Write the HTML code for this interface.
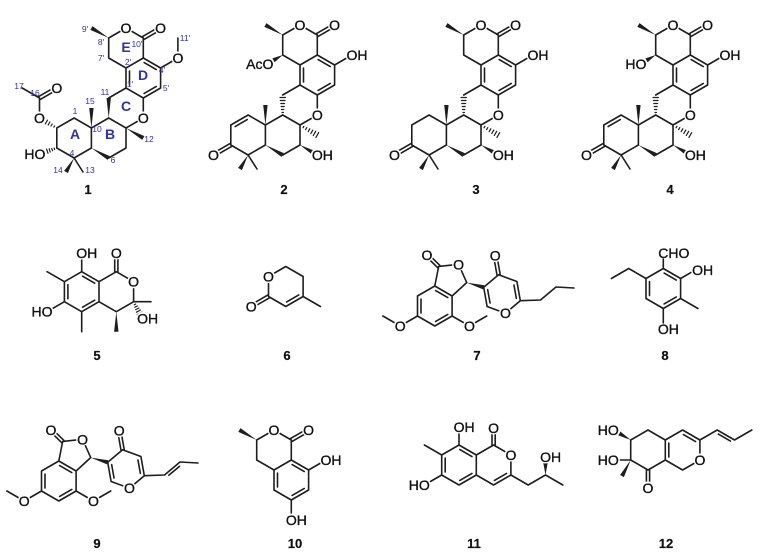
<!DOCTYPE html>
<html><head><meta charset="utf-8">
<style>
html,body{margin:0;padding:0;background:#fff;}
svg{display:block;}
text{font-family:"Liberation Sans",Arial,sans-serif;}
.a{font-size:14px;fill:#111;stroke:#111;stroke-width:0.35px;}
.m{text-anchor:middle;}
.e{text-anchor:end;}
.n{font-size:13px;font-weight:bold;fill:#111;text-anchor:middle;stroke:#111;stroke-width:0.2px;}
.b{font-size:8.5px;fill:#3030b0;text-anchor:middle;}
.r{font-size:14px;font-weight:bold;fill:#3030b0;text-anchor:middle;}
</style></head><body>
<svg xmlns="http://www.w3.org/2000/svg" width="768" height="558" viewBox="0 0 768 558">
<rect width="768" height="558" fill="#fff"/>
<defs>
<g id="core">
<path d="M300,65 L282.7,55 L282.7,35 L300,25 L317.3,35 L317.3,55 M300,85 L300,65 L317.3,55 L334.6,65 L334.6,85 L317.3,95 Z M303.5,68 L303.5,82 M318.15,59.53 L330.25,66.53 M330.25,83.47 L318.15,90.47 M318.1,36.4 L335.4,26.4 M316.5,33.6 L333.8,23.6 M334.6,65 L351.9,55 M300,85 L282.7,95 M282.7,115 L300,125 L317.3,115 L317.3,95 M282.7,115 L265.4,125 L265.4,145 M282.7,155 L300,145 L300,125 M265.4,125 L248.1,115 L230.8,125 L230.8,145 L248.1,155 L265.4,145 M248.1,155 L257,169"/>
<path fill="#1e1e1e" stroke="none" d="M282.7,35 L266.5,23.1 L264.3,26.9 Z M265.4,125 L263.2,105 L267.6,105 Z M265.4,145 L281.6,156.9 L283.8,153.1 Z M248.1,155 L238.1,167.9 L241.9,170.1 Z"/>
</g>
<g id="x234">
<path stroke-width="1.2" d="M282,112.5 H283.4 M281.6,109.5 H283.8 M281.2,106.5 H284.2 M280.8,103.5 H284.6 M280.4,100.5 H285 M280,97.5 H285.4 M303.1,127.7 L303.9,126.3 M305.6,129.6 L306.8,127.6 M308.2,131.6 L309.8,128.8 M310.8,133.5 L312.8,130.1 M313.3,135.5 L315.7,131.3 M315.9,137.4 L318.7,132.6"/>
<path d="M231.6,146.4 L214.3,156.4 M230,143.6 L212.7,153.6"/>
<path fill="#1e1e1e" stroke="none" d="M300,145 L311.9,154.4 L314.1,150.6 Z"/>
</g>
<g id="x24">
<path d="M247.25,119.53 L235.15,126.53"/>
<path fill="#1e1e1e" stroke="none" d="M282.7,55 L272.4,58.4 L274.6,62.2 Z"/>
</g>
<g id="c_core" fill="#fff" stroke="none">
<circle cx="300" cy="25" r="6.5"/><circle cx="334.6" cy="25" r="6.5"/><circle cx="317.3" cy="115" r="6.5"/><circle cx="351.9" cy="55" r="6.5"/>
</g>
<g id="c234" fill="#fff" stroke="none">
<circle cx="213.5" cy="155" r="6.5"/><circle cx="317.3" cy="155" r="6.5"/>
</g>
<g id="c24" fill="#fff" stroke="none"><circle cx="268" cy="64" r="6.5"/></g>
<g id="s9">
<path d="M41.5,471 L58.8,461 L76.1,471 L76.1,491 L58.8,501 L41.5,491 Z M45,474 L45,488 M59.65,465.53 L71.75,472.53 M59.65,496.47 L71.75,489.47 M58.8,461 L62.7,441.4 L82.6,439.3 L90.7,457.6 L76.1,471 M63.8,440.3 L52.1,428.9 M61.6,442.6 L49.9,431.2 M41.5,491 L24.2,501 L6.9,491 M76.1,491 L93.4,501 L110.7,491 M107.7,462.3 L122.6,449.8 L140.9,456.5 L144.3,475.7 L129.4,488.2 L111.1,481.5 Z M137.95,460 L140.35,473.4 M111.65,464.6 L114.05,478 M124.2,449.5 L120.8,430.3 M121,450.1 L117.6,430.9 M144.3,475.7 L164.5,475 L180,462 L198,463"/>
<path fill="#1e1e1e" stroke="none" d="M90.7,457.6 L107.1,464.4 L108.3,460.2 Z"/>
</g>
<g id="c9" fill="#fff" stroke="none">
<circle cx="51" cy="430" r="6.5"/><circle cx="82.6" cy="439.3" r="6.5"/><circle cx="24.2" cy="501" r="6.5"/><circle cx="93.4" cy="501" r="6.5"/><circle cx="119.2" cy="430.6" r="6.5"/><circle cx="129.4" cy="488.2" r="6.5"/>
</g>
</defs>

<!-- BONDS -->
<g stroke="#1e1e1e" stroke-width="1.6" stroke-linecap="round" stroke-linejoin="round" fill="none">
<!-- 1 -->
<g transform="translate(-174,3)">
<use href="#core"/>
<path stroke-width="1.2" d="M228.55,122.9 L227.85,124.1 M226.2,121 L225,123 M223.85,119 L222.15,122 M221.5,117.1 L219.3,120.9 M228.6,146.5 L228.2,145.1 M226.5,147.7 L225.7,145.5 M224.2,149 L223.2,145.8 M222,150.3 L220.6,146.1"/>
<path d="M213.5,115 L213.5,95 L196.2,85 M214.3,96.4 L231.6,86.4 M212.7,93.6 L230,83.6 M351.9,55 L351.9,35"/>
<path fill="#1e1e1e" stroke="none" d="M282.7,115 L280.5,95 L284.9,95 Z M300,125 L316.2,136.9 L318.4,133.1 Z"/>
</g>
<!-- 2 -->
<use href="#core"/><use href="#x234"/><use href="#x24"/>
<!-- 3 -->
<g transform="translate(181,0)"><use href="#core"/><use href="#x234"/></g>
<!-- 4 -->
<g transform="translate(373,0)"><use href="#core"/><use href="#x234"/><use href="#x24"/></g>

<!-- 5 -->
<path d="M64.4,281.7 L81.7,271.7 L99,281.7 L99,301.7 L81.7,311.7 L64.4,301.7 Z M82.55,276.23 L94.65,283.23 M67.9,284.7 L67.9,298.7 M82.55,307.17 L94.65,300.17 M99,281.7 L116.3,271.7 L133.6,281.7 L133.6,301.7 L116.3,311.7 L99,301.7 M114.7,271.7 L114.7,256 M117.9,271.7 L117.9,256 M81.7,271.7 L81.7,256 M64.4,281.7 L47.1,271.7 M64.4,301.7 L47.1,311.7 M81.7,311.7 L81.7,331.7 M133.6,301.7 L151,301.7"/>
<path fill="#1e1e1e" stroke="none" d="M116.3,311.7 L114.1,331.7 L118.5,331.7 Z"/>
<path stroke-width="1.2" d="M134.3,304.8 L135.7,304 M134.9,307.2 L137.3,306 M135.7,309.6 L138.9,308 M136.4,312.2 L140.4,310 M137.2,314.5 L142,312.1"/>
<!-- 6 -->
<path d="M268.5,276.5 L285.8,266.5 L303.1,276.5 L303.1,296.5 L285.8,306.5 L268.5,296.5 Z M286.65,301.97 L298.75,294.97 M269.3,297.9 L252,307.9 M267.7,295.1 L250.4,305.1 M303.1,296.5 L320.4,306.5"/>
<!-- 7 -->
<g transform="translate(376,-175)"><use href="#s9"/></g>
<!-- 8 -->
<path d="M663.3,268.5 L680.6,278.5 L680.6,298.5 L663.3,308.5 L646,298.5 L646,278.5 Z M664.15,273.03 L676.25,280.03 M649.5,281.5 L649.5,295.5 M676.25,296.97 L664.15,303.97 M663.3,268.5 L663.3,259 M680.6,278.5 L693,271.3 M680.6,298.5 L697.9,308.5 M663.3,308.5 L663.3,323 M646,278.5 L628.7,268.5 L611.4,278.5"/>
<!-- 9 -->
<use href="#s9"/>
<path d="M168.8,475.3 L179.6,466.3"/>
<!-- 10 -->
<path d="M256.7,440 L274,430 L291.3,440 L291.3,460 L274,470 L256.7,460 Z M291.3,460 L308.6,470 L308.6,490 L291.3,500 L274,490 L274,470 M292.15,464.53 L304.25,471.53 M277.5,473 L277.5,487 M292.15,495.47 L304.25,488.47 M292.1,441.4 L309.4,431.4 M290.5,438.6 L307.8,428.6 M308.6,470 L325.9,460 M291.3,500 L291.3,515"/>
<path fill="#1e1e1e" stroke="none" d="M256.7,440 L240.5,428.1 L238.3,431.9 Z"/>
<!-- 11 -->
<path d="M459,445 L476.3,455 L476.3,475 L459,485 L441.7,475 L441.7,455 Z M459.85,449.53 L471.95,456.53 M445.2,458 L445.2,472 M459.85,480.47 L471.95,473.47 M476.3,455 L493.6,445 L510.9,455 L510.9,475 L493.6,485 L476.3,475 M506.55,473.47 L494.45,480.47 M492,445 L492,431 M495.2,445 L495.2,431 M459,445 L459,432 M441.7,455 L424.4,445 M441.7,475 L424.4,485 M510.9,475 L528.2,485 L545.5,475 L562.8,485"/>
<path fill="#1e1e1e" stroke="none" d="M545.5,475 L543.3,463 L547.7,463 Z"/>
<!-- 12 -->
<path d="M630.7,440 L648,430 L665.3,440 L665.3,460 L648,470 L630.7,460 Z M665.3,440 L682.6,430 L699.9,440 L699.9,460 L682.6,470 L665.3,460 M668.8,443 L668.8,457 M683.45,434.53 L695.55,441.53 M646.4,470 L646.4,484 M649.6,470 L649.6,484 M630.7,460 L619,460 M699.9,440 L717.2,430 L734.5,440 L751.8,430 M718.3,434.1 L730.4,441.1"/>
<path fill="#1e1e1e" stroke="none" d="M630.7,440 L620.5,431.6 L618.3,435.4 Z M630.7,460 L620.1,475 L623.9,477.1 Z"/>
</g>

<!-- LABEL BACKGROUNDS -->
<g fill="#fff" stroke="none">
<g transform="translate(-174,3)"><use href="#c_core"/><circle cx="213.5" cy="115" r="6.5"/><circle cx="230.8" cy="85" r="6.5"/><circle cx="214" cy="151" r="6.5"/></g>
<use href="#c_core"/><use href="#c234"/><use href="#c24"/>
<g transform="translate(181,0)"><use href="#c_core"/><use href="#c234"/></g>
<g transform="translate(373,0)"><use href="#c_core"/><use href="#c234"/><use href="#c24"/></g>
<circle cx="81.7" cy="253" r="6.5"/><circle cx="116.3" cy="253" r="6.5"/><circle cx="133.6" cy="281.7" r="6.5"/><circle cx="47.1" cy="311.7" r="6.5"/><circle cx="142.5" cy="318.5" r="6.5"/>
<circle cx="268.5" cy="276.5" r="6.5"/><circle cx="251.2" cy="306.5" r="6.5"/>
<g transform="translate(376,-175)"><use href="#c9"/></g>
<use href="#c9"/>
<circle cx="697.5" cy="270" r="6.5"/>
<circle cx="274" cy="430" r="6.5"/><circle cx="308.6" cy="430" r="6.5"/><circle cx="325.9" cy="460" r="6.5"/><circle cx="291.3" cy="520" r="6.5"/>
<circle cx="459" cy="427" r="6.5"/><circle cx="493.6" cy="428" r="6.5"/><circle cx="510.9" cy="455" r="6.5"/><circle cx="424.4" cy="485" r="6.5"/><circle cx="545.5" cy="457" r="6.5"/>
<circle cx="613.4" cy="430" r="6.5"/><circle cx="613.4" cy="460" r="6.5"/><circle cx="699.9" cy="460" r="6.5"/><circle cx="648" cy="488" r="6.5"/>
</g>

<!-- ATOM LABELS -->
<!-- 1 -->
<text class="a m" x="126" y="33">O</text>
<text class="a m" x="160.6" y="33">O</text>
<text class="a m" x="177.9" y="63">O</text>
<text class="a m" x="143.3" y="123">O</text>
<text class="a m" x="39.5" y="123">O</text>
<text class="a m" x="56.8" y="93">O</text>
<text class="a e" x="45.4" y="159">HO</text>
<!-- 2 -->
<text class="a m" x="300" y="30">O</text>
<text class="a m" x="334.6" y="30">O</text>
<text class="a" x="346.5" y="60">OH</text>
<text class="a m" x="317.3" y="120">O</text>
<text class="a m" x="213.5" y="160">O</text>
<text class="a" x="311.9" y="160">OH</text>
<text class="a e" x="273.4" y="69">AcO</text>
<!-- 3 -->
<text class="a m" x="481" y="30">O</text>
<text class="a m" x="515.6" y="30">O</text>
<text class="a" x="527.5" y="60">OH</text>
<text class="a m" x="498.3" y="120">O</text>
<text class="a m" x="394.5" y="160">O</text>
<text class="a" x="492.9" y="160">OH</text>
<!-- 4 -->
<text class="a m" x="673" y="30">O</text>
<text class="a m" x="707.6" y="30">O</text>
<text class="a" x="719.5" y="60">OH</text>
<text class="a m" x="690.3" y="120">O</text>
<text class="a m" x="586.5" y="160">O</text>
<text class="a" x="684.9" y="160">OH</text>
<text class="a e" x="646.4" y="69">HO</text>
<!-- 5 -->
<text class="a" x="76.3" y="258">OH</text>
<text class="a m" x="116.3" y="258">O</text>
<text class="a m" x="133.6" y="286.7">O</text>
<text class="a e" x="52.5" y="316.7">HO</text>
<text class="a" x="137.1" y="323.5">OH</text>
<!-- 6 -->
<text class="a m" x="268.5" y="281.5">O</text>
<text class="a m" x="251.2" y="311.5">O</text>
<!-- 7 -->
<g transform="translate(376,-175)">
<text class="a m" x="51" y="435">O</text>
<text class="a m" x="82.6" y="444.3">O</text>
<text class="a m" x="24.2" y="506">O</text>
<text class="a m" x="93.4" y="506">O</text>
<text class="a m" x="119.2" y="435.6">O</text>
<text class="a m" x="129.4" y="493.2">O</text>
</g>
<!-- 8 -->
<text class="a" x="658.3" y="258">CHO</text>
<text class="a" x="692.1" y="275">OH</text>
<text class="a" x="657.9" y="334">OH</text>
<!-- 9 -->
<text class="a m" x="51" y="435">O</text>
<text class="a m" x="82.6" y="444.3">O</text>
<text class="a m" x="24.2" y="506">O</text>
<text class="a m" x="93.4" y="506">O</text>
<text class="a m" x="119.2" y="435.6">O</text>
<text class="a m" x="129.4" y="493.2">O</text>
<!-- 10 -->
<text class="a m" x="274" y="435">O</text>
<text class="a m" x="308.6" y="435">O</text>
<text class="a" x="320.5" y="465">OH</text>
<text class="a" x="285.9" y="525">OH</text>
<!-- 11 -->
<text class="a" x="453.6" y="432">OH</text>
<text class="a m" x="493.6" y="433">O</text>
<text class="a m" x="510.9" y="460">O</text>
<text class="a e" x="429.8" y="490">HO</text>
<text class="a" x="540.1" y="462">OH</text>
<!-- 12 -->
<text class="a e" x="618.8" y="435">HO</text>
<text class="a e" x="618.8" y="465">HO</text>
<text class="a m" x="699.9" y="465">O</text>
<text class="a m" x="648" y="493">O</text>

<!-- BLUE NUMBERING FOR 1 -->
<text class="b" x="85" y="32">9'</text>
<text class="b" x="101" y="45">8'</text>
<text class="b" x="137" y="47">10'</text>
<text class="b" x="101" y="61">7'</text>
<text class="b" x="128" y="65">2'</text>
<text class="b" x="162" y="73">4'</text>
<text class="b" x="185" y="41">11'</text>
<text class="b" x="166" y="91">5'</text>
<text class="b" x="130" y="87">1'</text>
<text class="b" x="105" y="95">11</text>
<text class="b" x="19" y="89">17</text>
<text class="b" x="35" y="96">16</text>
<text class="b" x="90" y="104">15</text>
<text class="b" x="75" y="114">1</text>
<text class="b" x="97" y="132">10</text>
<text class="b" x="149" y="142">12</text>
<text class="b" x="113" y="163">6</text>
<text class="b" x="72" y="156">4</text>
<text class="b" x="58" y="173">14</text>
<text class="b" x="90" y="173">13</text>
<text class="r" x="126" y="52">E</text>
<text class="r" x="143" y="80">D</text>
<text class="r" x="126" y="111">C</text>
<text class="r" x="75" y="139">A</text>
<text class="r" x="110" y="139">B</text>

<!-- COMPOUND NUMBERS -->
<text class="n" x="88" y="194">1</text>
<text class="n" x="284" y="194">2</text>
<text class="n" x="476" y="194">3</text>
<text class="n" x="670" y="194">4</text>
<text class="n" x="97" y="360">5</text>
<text class="n" x="287" y="360">6</text>
<text class="n" x="477" y="360">7</text>
<text class="n" x="665" y="360">8</text>
<text class="n" x="97" y="548">9</text>
<text class="n" x="295" y="548">10</text>
<text class="n" x="474" y="548">11</text>
<text class="n" x="666" y="548">12</text>
</svg>
</body></html>
